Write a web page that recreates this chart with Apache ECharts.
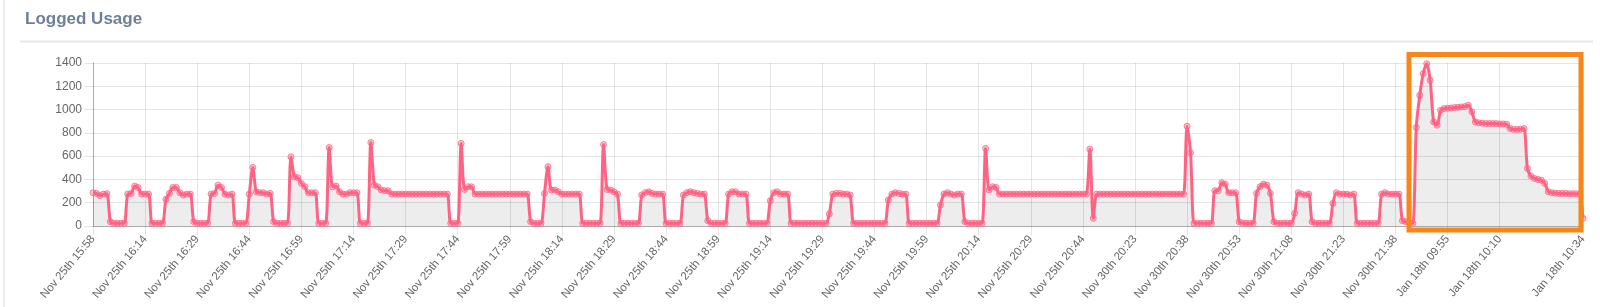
<!DOCTYPE html>
<html>
<head>
<meta charset="utf-8">
<script src="https://cdn.jsdelivr.net/npm/echarts@6/dist/echarts.min.js"></script>
<style>
html,body{margin:0;padding:0;background:#fff;}
#chart{width:1600px;height:307px;}
</style>
</head>
<body>
<div id="chart"></div>
<script>
var titleText = 'Logged Usage';

var tickLabels = ['Nov 25th 15:58','Nov 25th 16:14','Nov 25th 16:29','Nov 25th 16:44','Nov 25th 16:59','Nov 25th 17:14','Nov 25th 17:29','Nov 25th 17:44','Nov 25th 17:59','Nov 25th 18:14','Nov 25th 18:29','Nov 25th 18:44','Nov 25th 18:59','Nov 25th 19:14','Nov 25th 19:29','Nov 25th 19:44','Nov 25th 19:59','Nov 25th 20:14','Nov 25th 20:29','Nov 25th 20:44','Nov 30th 20:23','Nov 30th 20:38','Nov 30th 20:53','Nov 30th 21:08','Nov 30th 21:23','Nov 30th 21:38','Jan 18th 09:55','Jan 18th 10:10'];
var lastLabel = 'Jan 18th 10:34';
var tickStep = 15;

var usagePart1 = [
286,280,262,274,278,37,23,23,23,23,
274,280,343,331,274,274,274,23,23,23,
23,229,280,331,331,286,266,274,274,37,
23,23,23,23,274,280,351,331,274,266,
274,23,23,23,23,274,503,294,286,286,
274,280,37,23,23,23,23,594,423,414,
366,337,286,286,286,23,23,23,674,337,
343,294,274,274,286,286,286,23,23,23,
717,351,337,309,303,303,274,274,274,274,
274,274,274,274,274,274,274,274,274,274,
274,274,274,23,23,23,709,314,337,337,
274,274,274,274,274,274,274,274,274,274,
274,274,274,274,274,274,37,23,23,23,
280,509,309,309,294,274,274,274,274,274,
274,23,23,23,23,23,23,700,314,309
];
var usagePart2 = [
294,274,23,23,23,23,23,23,266,286,
294,280,274,274,274,23,23,23,23,23,
266,286,294,286,280,274,274,46,23,23,
23,23,23,274,294,294,274,274,274,23,
23,23,23,23,23,217,286,294,274,274,
274,23,23,23,23,23,23,23,23,23,
23,23,103,274,280,280,274,274,266,23,
23,23,23,23,23,23,23,23,23,223,
274,286,280,274,274,23,23,23,23,23,
23,23,23,23,180,274,286,274,266,274,
274,37,23,23,23,23,23,666,309,337,
331,274,274,274,274,274,274,274,274,274,
274,274,274,274,274,274,274,274,274,274,
274,274,274,274,274,274,274,660,66,274,
274,274,274,274,274,274,274,274,274,274
];
var usagePart3 = [
274,274,274,274,274,274,274,274,274,274,
274,274,274,274,274,857,629,23,23,23,
23,23,23,303,303,371,360,286,286,286,
37,23,23,23,23,280,337,360,351,280,
37,23,23,23,23,23,109,286,274,266,
274,37,23,23,23,23,23,194,286,274,
274,274,266,274,23,23,23,23,23,23,
23,274,286,274,274,274,274,46,37,29,
23,846,1123,1309,1394,1251,894,866,994,1009,
1011,1014,1017,1020,1023,1026,1037,980,894,886,
883,880,880,880,880,877,877,874,837,829,
829,831,837,494,429,409,400,394,366,294,
286,283,280,280,280,277,277,277,274,66
];

var usage = usagePart1.concat(usagePart2, usagePart3);
var N = usage.length;
var categories = usage.map(function (v, i) {
  if (i === N - 1) return lastLabel;
  if (i % tickStep === 0 && (i / tickStep) < tickLabels.length) return tickLabels[i / tickStep];
  return '';
});
function showTick(i) {
  return i === N - 1 || (i % tickStep === 0 && i + tickStep < N);
}

var chart = echarts.init(document.getElementById('chart'), null, {renderer: 'canvas'});
var font = "'Helvetica Neue', Helvetica, Arial, 'Liberation Sans', sans-serif";
chart.setOption({
  animation: false,
  backgroundColor: '#ffffff',
  grid: {left: 93, right: 17, top: 63, bottom: 81, containLabel: false},
  xAxis: {
    type: 'category',
    data: categories,
    boundaryGap: false,
    axisLine: {show: true, lineStyle: {color: 'rgba(0,0,0,0.25)', width: 1}},
    axisTick: {show: true, interval: function (i) { return showTick(i); }, length: 9, lineStyle: {color: 'rgba(0,0,0,0.1)'}},
    splitLine: {show: true, interval: function (i) { return showTick(i); }, lineStyle: {color: 'rgba(0,0,0,0.1)', width: 1}},
    axisLabel: {
      interval: function (i) { return showTick(i); },
      rotate: 50, margin: 11, color: '#666', fontSize: 11.5, fontFamily: font
    }
  },
  yAxis: {
    type: 'value',
    min: 0, max: 1400, interval: 200,
    axisLine: {show: true, lineStyle: {color: 'rgba(0,0,0,0.25)', width: 1}},
    axisTick: {show: true, length: 9, lineStyle: {color: 'rgba(0,0,0,0.1)'}},
    splitLine: {show: true, lineStyle: {color: 'rgba(0,0,0,0.1)', width: 1}},
    axisLabel: {margin: 11, color: '#666', fontSize: 12, fontFamily: font,
      formatter: function (v) { return String(v); }}
  },
  series: [{
    type: 'line',
    data: usage,
    smooth: 0.3,
    symbol: 'circle',
    symbolSize: 6,
    showAllSymbol: true,
    lineStyle: {color: '#ff6384', width: 3},
    itemStyle: {color: 'rgba(255,99,132,0.35)', borderColor: 'rgba(255,99,132,0.8)', borderWidth: 1},
    areaStyle: {color: 'rgba(0,0,0,0.1)', origin: 'start'}
  }],
  graphic: [
    {type: 'line', shape: {x1: 4, y1: 0, x2: 4, y2: 307}, style: {stroke: '#ececec', lineWidth: 2}},
    {type: 'text', left: 25, top: 11, style: {text: titleText, font: 'bold 17px ' + font, fill: '#6d7f9b'}},
    {type: 'line', shape: {x1: 20, y1: 41.5, x2: 1593, y2: 41.5}, style: {stroke: '#e4e8ee', lineWidth: 2}},
    {type: 'rect', shape: {x: 1409, y: 54.5, width: 172, height: 175.5}, style: {fill: 'none', stroke: '#f7861c', lineWidth: 5}, z: 100}
  ]
});
</script>
</body>
</html>
